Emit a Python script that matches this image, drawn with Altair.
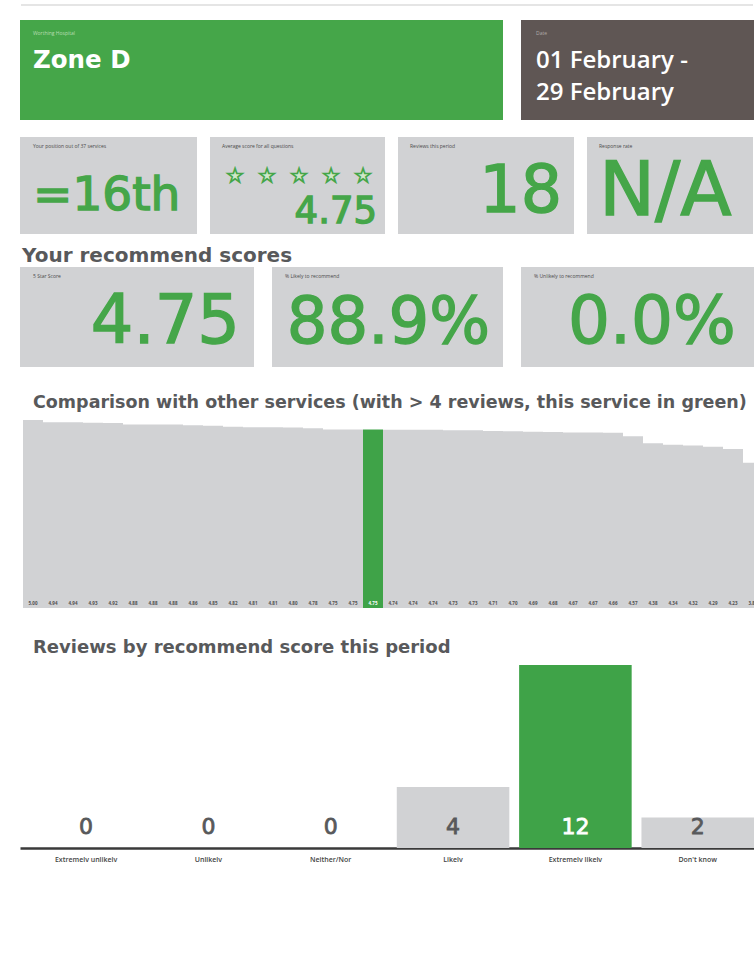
import altair as alt
import pandas as pd

# ---------------- data ----------------
hospital = "Worthing Hospital"
zone = "Zone D"
date_caption = "Date"
date_lines = ["01 February -", "29 February"]

position_label = "Your position out of 37 services"
position_value = "=16th"
avg_label = "Average score for all questions"
avg_value = 4.75
avg_stars = ["★", "★", "★", "★", "★"]
reviews_label = "Reviews this period"
reviews_value = 18
response_label = "Response rate"
response_value = "N/A"

rec_heading = "Your recommend scores"
star_label = "5 Star Score"
star_value = 4.75
likely_label = "% Likely to recommend"
likely_value = 88.9
unlikely_label = "% Unlikely to recommend"
unlikely_value = 0.0

comp_heading = "Comparison with other services (with > 4 reviews, this service in green)"
service_scores = [5.00, 4.94, 4.94, 4.93, 4.92, 4.88, 4.88, 4.88, 4.86, 4.85,
                  4.82, 4.81, 4.81, 4.80, 4.78, 4.75, 4.75, 4.75, 4.74, 4.74,
                  4.74, 4.73, 4.73, 4.71, 4.70, 4.69, 4.68, 4.67, 4.67, 4.66,
                  4.57, 4.38, 4.34, 4.32, 4.29, 4.23, 3.86]
this_service_position = 18

reviews_heading = "Reviews by recommend score this period"
categories = ["Extremely unlikely", "Unlikely", "Neither/Nor", "Likely",
              "Extremely likely", "Don't know"]
counts = [0, 0, 0, 4, 12, 2]
highlight_category = "Extremely likely"

# ---------------- style ----------------
FONT = "Open Sans"
NUMFONT = "DejaVu Sans"
GREEN = "#45a649"
BARGREEN = "#3fa348"
DARK = "#5f5654"
TILE = "#d1d2d4"
HEAD = "#58595b"
LABEL = "#4a4a4a"


def one(**kw):
    return pd.DataFrame({k: [v] for k, v in kw.items()})


def small_label(df, x, y, color=LABEL):
    return alt.Chart(df).mark_text(
        align="left", baseline="top", fontSize=5, color=color, font=FONT
    ).encode(x=alt.value(x), y=alt.value(y), text="label:N")


def big_value(df, x, y, size, align="right", color=GREEN, field="value:N", fmt=None):
    text = alt.Text(field, format=fmt) if fmt else alt.Text(field)
    return alt.Chart(df).mark_text(
        align=align, baseline="alphabetic", fontSize=size, color=color,
        stroke=color, strokeWidth=1.4,
        font=NUMFONT, fontWeight="normal", clip=True
    ).encode(x=alt.value(x), y=alt.value(y), text=text)


def panel(layers, w, h, fill):
    return alt.layer(*layers).properties(
        width=w, height=h, view=alt.ViewBackground(fill=fill)
    )


# ---------- thin page rule at the top ----------
topline = alt.Chart(one(label="")).mark_rule(color="#dcdcdc", strokeWidth=1.5).encode(
    x=alt.value(1), x2=alt.value(733), y=alt.value(1)
).properties(width=734, height=2)

# ---------- Row A: header ----------
hdf = one(label=hospital, value=zone)
zone_text = alt.Chart(hdf).mark_text(
    align="left", baseline="alphabetic", fontSize=24.5, color="white",
    font=NUMFONT, fontWeight="bold"
).encode(x=alt.value(13), y=alt.value(48), text="value:N")
green_head = panel([small_label(hdf, 13, 11, color="#b8ddb3"), zone_text], 483, 100, GREEN)

ddf = pd.DataFrame({"value": date_lines, "line": [0, 1]})
date_text = alt.Chart(ddf).mark_text(
    align="left", baseline="alphabetic", fontSize=24, color="white",
    font=FONT, fontWeight=600, clip=True
).encode(
    x=alt.value(15),
    y=alt.Y("line:Q", scale=alt.Scale(domain=[0, 1], range=[48, 80]), axis=None),
    text="value:N",
)
dark_head = panel([
    small_label(one(label=date_caption), 15, 11, color="#b0aaa8"),
    date_text,
], 233, 100, DARK)

row_a = alt.hconcat(green_head, dark_head, spacing=18)

# ---------- Row B ----------
t1 = panel([
    small_label(one(label=position_label), 13, 7),
    big_value(one(value=position_value), 13, 73, 47, align="left"),
], 177, 97, TILE)

sdf = pd.DataFrame({"star": avg_stars, "i": list(range(len(avg_stars)))})
stars = alt.Chart(sdf).mark_text(
    fontSize=19, color="#cfe8c9", stroke=GREEN, strokeWidth=1.6,
    font="DejaVu Sans", baseline="middle"
).encode(
    x=alt.X("i:O", scale=alt.Scale(type="point", range=[25, 153], padding=0), axis=None),
    y=alt.value(39),
    text="star:N",
)
t2 = panel([
    small_label(one(label=avg_label), 12, 7),
    stars,
    big_value(one(value=avg_value), 167, 86, 37, field="value:Q", fmt=".2f"),
], 175, 97, TILE)

t3 = panel([
    small_label(one(label=reviews_label), 12, 7),
    big_value(one(value=reviews_value), 164, 75, 65, field="value:Q"),
], 176, 97, TILE)

t4 = panel([
    small_label(one(label=response_label), 12, 7),
    big_value(one(value=response_value), 12, 78, 75, align="left"),
], 166, 97, TILE)

row_b = alt.hconcat(t1, t2, t3, t4, spacing=13)


def heading(text, h, x, y, size):
    return alt.Chart(one(label=text)).mark_text(
        align="left", baseline="alphabetic", fontSize=size, color=HEAD,
        font=NUMFONT, fontWeight="bold", clip=True
    ).encode(x=alt.value(x), y=alt.value(y), text="label:N").properties(width=734, height=h)


h1 = heading(rec_heading, 33, 2, 28, 20)

# ---------- Row C ----------
c1 = panel([
    small_label(one(label=star_label), 13, 7),
    big_value(one(value=star_value), 220, 76, 67, field="value:Q", fmt=".2f"),
], 234, 100, TILE)
c2 = panel([
    small_label(one(label=likely_label), 13, 7),
    big_value(one(value=likely_value / 100), 218, 76, 64, field="value:Q", fmt=".1%"),
], 231, 100, TILE)
c3 = panel([
    small_label(one(label=unlikely_label), 13, 7),
    big_value(one(value=unlikely_value / 100), 47, 76, 66, align="left", field="value:Q", fmt=".1%"),
], 233, 100, TILE)
row_c = alt.hconcat(c1, c2, c3, spacing=18)

h2 = heading(comp_heading, 53, 13, 41, 17.5)

# ---------- Comparison chart ----------
comp = pd.DataFrame({
    "pos": list(range(1, len(service_scores) + 1)),
    "score": service_scores,
})
comp["this"] = comp["pos"] == this_service_position

xc = alt.X("pos:O", scale=alt.Scale(range=[3, 3 + 20 * len(service_scores)],
                                    paddingInner=0, paddingOuter=0), axis=None)
comp_bars = alt.Chart(comp).mark_bar(clip=True).encode(
    x=xc,
    y=alt.Y("score:Q", scale=alt.Scale(domain=[0, 5], nice=False), axis=None),
    color=alt.condition(alt.datum.this, alt.value(BARGREEN), alt.value(TILE)),
)
comp_text = alt.Chart(comp).mark_text(
    fontSize=4.5, baseline="bottom", font=FONT, fontWeight=700, clip=True
).encode(
    x=xc,
    y=alt.value(186),
    text=alt.Text("score:Q", format=".2f"),
    color=alt.condition(alt.datum.this, alt.value("white"), alt.value("#505050")),
)
comparison = alt.layer(comp_bars, comp_text).properties(width=734, height=188)

h3 = heading(reviews_heading, 57, 13, 45, 18)

# ---------- Reviews by score ----------
rev = pd.DataFrame({"category": categories, "count": counts})
rev["hl"] = rev["category"] == highlight_category
xr = alt.X(
    "category:N", sort=categories,
    scale=alt.Scale(paddingInner=0.08, paddingOuter=0.04, align=1),
    axis=alt.Axis(title=None, ticks=False, labelFontSize=7, labelPadding=7,
                  labelColor="#444444", labelFont=FONT, labelFontWeight=600,
                  labelAngle=0, domainColor="#3a3a3a", domainWidth=2.5),
)
rev_bars = alt.Chart(rev).mark_bar().encode(
    x=xr,
    y=alt.Y("count:Q", scale=alt.Scale(domain=[0, 12], nice=False), axis=None),
    color=alt.condition(alt.datum.hl, alt.value(BARGREEN), alt.value(TILE)),
)
rev_text = alt.Chart(rev).mark_text(
    fontSize=22, font=NUMFONT, baseline="alphabetic", strokeWidth=0.8
).encode(
    x=xr,
    y=alt.value(169),
    text="count:Q",
    color=alt.condition(alt.datum.hl, alt.value("white"), alt.value(HEAD)),
    stroke=alt.condition(alt.datum.hl, alt.value("white"), alt.value(HEAD)),
)
reviews = alt.layer(rev_bars, rev_text).properties(width=734, height=183)

body = alt.vconcat(row_b, h1, row_c, h2, comparison, h3, reviews, spacing=0)
main = alt.vconcat(row_a, body, spacing=17)

chart = alt.vconcat(topline, main, spacing=14).properties(
    padding={"left": 20, "top": 4, "right": 0, "bottom": 0},
    background="white",
).configure_view(strokeWidth=0).configure_axis(grid=False)

chart.save("out.html", embed_options={"renderer": "svg", "actions": False})
